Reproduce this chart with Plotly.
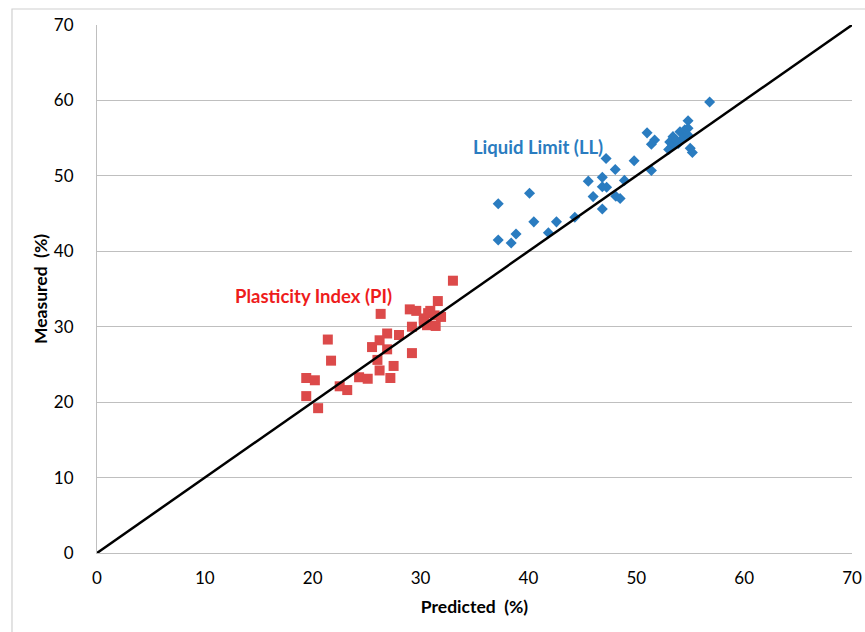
import plotly.graph_objects as go

# Liquid Limit (LL) points: predicted vs measured
ll_pred = [56.8, 54.8, 51.0, 51.7, 51.4, 53.4, 54.05, 54.5, 54.8, 53.1, 53.7, 54.35, 54.8,
           53.3, 53.0, 53.9, 55.0, 55.2, 47.2, 49.8, 48.05, 51.4, 45.55, 46.85, 48.9, 46.85,
           47.25, 40.1, 46.0, 48.1, 48.5, 37.2, 46.85, 40.5, 42.6, 44.3, 41.85, 38.85, 37.2, 38.4]
ll_meas = [59.8, 57.3, 55.7, 54.75, 54.2, 55.2, 55.85, 56.1, 56.3, 54.5, 54.75, 55.0, 55.4,
           53.9, 53.5, 54.3, 53.65, 53.1, 52.3, 52.0, 50.85, 50.7, 49.3, 49.8, 49.4, 48.55,
           48.5, 47.7, 47.25, 47.3, 47.0, 46.3, 45.6, 43.9, 43.9, 44.5, 42.45, 42.3, 41.5, 41.1]

# Plasticity Index (PI) points: predicted vs measured
pi_pred = [33.0, 26.3, 29.0, 29.6, 31.6, 30.7, 30.3, 31.3, 30.9, 31.9, 29.2, 30.6, 31.4,
           30.3, 26.9, 28.0, 21.4, 25.5, 26.9, 29.2, 21.7, 26.0, 27.5, 26.2, 19.4, 20.2,
           22.5, 23.2, 24.3, 25.1, 27.2, 19.4, 20.5, 26.2]
pi_meas = [36.1, 31.7, 32.3, 32.1, 33.4, 31.8, 31.1, 31.5, 32.1, 31.3, 30.0, 30.2, 30.1,
           30.6, 29.1, 28.9, 28.3, 27.3, 27.0, 26.5, 25.5, 25.6, 24.8, 24.2, 23.2, 22.9,
           22.1, 21.6, 23.3, 23.1, 23.2, 20.8, 19.2, 28.2]

# 1:1 line
line_x = [0, 70]
line_y = [0, 70]

tick_vals = [0, 10, 20, 30, 40, 50, 60, 70]
tick_text = ["0", "10", "20", "30", "40", "50", "60", "70"]

FONT = "Lato, 'Open Sans', sans-serif"

fig = go.Figure()
fig.add_trace(go.Scatter(x=ll_pred, y=ll_meas, mode="markers", name="LL",
                         marker=dict(symbol="diamond", size=8.5, color="#2a7cc0"),
                         showlegend=False))
fig.add_trace(go.Scatter(x=pi_pred, y=pi_meas, mode="markers", name="PI",
                         marker=dict(symbol="square", size=10, color="#dc4a4a"),
                         showlegend=False))
fig.add_trace(go.Scatter(x=line_x, y=line_y, mode="lines",
                         line=dict(color="black", width=2.5),
                         cliponaxis=False, showlegend=False, hoverinfo="skip"))

fig.add_annotation(x=40.9, y=53.8, text="<b>Liquid Limit (LL)</b>", showarrow=False,
                   font=dict(family=FONT, size=18.5, color="#2a7cc0"))
fig.add_annotation(x=20.1, y=34.1, text="<b>Plasticity Index (PI)</b>", showarrow=False,
                   font=dict(family=FONT, size=18.5, color="#ee1c1c"))

# outer chart border (cropped on right/bottom)
fig.add_shape(type="rect", xref="paper", yref="paper",
              x0=-0.1126, x1=1.05, y0=-0.2, y1=1.0303,
              line=dict(color="#d0d0d0", width=1.2), layer="below")

fig.update_layout(
    width=865, height=632,
    margin=dict(l=97, r=13, t=25, b=79, autoexpand=False),
    paper_bgcolor="white", plot_bgcolor="white",
    font=dict(family=FONT, size=17, color="black"),
    xaxis=dict(range=[0, 70], tickvals=tick_vals, ticktext=tick_text,
               showgrid=False, zeroline=False, showline=True, linecolor="#bfbfbf",
               linewidth=1, ticks="", ticklabelstandoff=10, automargin=False,
               title=dict(text="<b>Predicted  (%)</b>", font=dict(size=17.5), standoff=13)),
    yaxis=dict(range=[0, 70], tickvals=tick_vals, ticktext=tick_text,
               showgrid=True, gridcolor="#bfbfbf", gridwidth=1,
               zeroline=False, showline=True, linecolor="#bfbfbf",
               linewidth=1, ticks="", ticklabelstandoff=19, automargin=False,
               title=dict(text="<b>Measured  (%)</b>", font=dict(size=17.5), standoff=1)),
)

fig.write_html("out.html", config={"displayModeBar": False},
               post_script="document.body.style.margin='0';document.body.style.overflow='hidden';")
